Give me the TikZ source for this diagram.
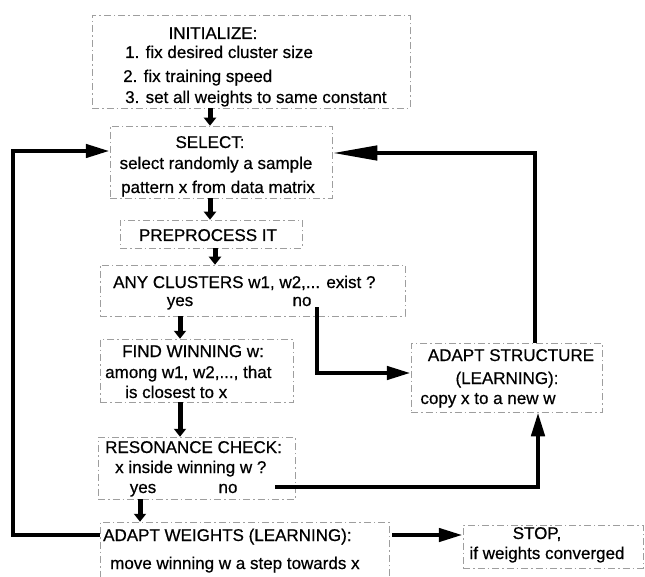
\documentclass[tikz,border=0pt]{standalone}
\usepackage{fontspec}
\setmainfont{Liberation Sans}
\newfontfamily\scanfont[FakeBold=0.6]{Liberation Sans}
\usetikzlibrary{arrows.meta,calc}
\begin{document}
\begin{tikzpicture}[x=1pt,y=-1pt,
  box/.style={draw=black!38, line width=0.5pt, dash pattern=on 7pt off 3pt on 1.5pt off 3pt, rectangle, inner sep=0pt},
  txt/.style={inner sep=0pt, font=\scanfont\fontsize{17}{20}\selectfont, text height=12pt, text depth=0pt},
  flow/.style={line width=4.5pt, -{Triangle[length=24pt,width=13pt]}},
  longflow/.style={line width=4.5pt, -{Triangle[length=45pt,width=14pt]}},
  stub/.style={line width=5pt, -{Triangle[length=8pt,width=12pt]}}
]
\useasboundingbox (0,0) rectangle (645,577);
\newcommand{\bx}[5]{\node[box, minimum width={#4-#2}, minimum height={#5-#3}] (#1) at ({(#2+#4)/2},{(#3+#5)/2}) {};}
% boxes
\bx{init}{92}{15}{410}{108}
\bx{select}{110}{126}{332}{198}
\bx{prep}{120}{220}{302}{248}
\bx{clus}{100}{265}{405}{316}
\bx{find}{100}{339}{293}{402}
\bx{reson}{98}{437}{295}{499}
\bx{adaptw}{100}{522}{389}{577}
\bx{adapts}{411}{343}{602}{412}
\bx{stop}{463}{525}{643}{568}
% texts
\node[txt] (tinit) at (213,33) {INITIALIZE:};
\node[txt,anchor=west] (tinit1) at (125,52) {1. fix desired cluster size};
\node[txt,anchor=west] (tinit2) at (123,76) {2. fix training speed};
\node[txt,anchor=west] (tinit3) at (125,97) {3. set all weights to same constant};
\node[txt] (tsel) at (210,142) {SELECT:};
\node[txt] (tsel1) at (216,163) {select randomly a sample};
\node[txt] (tsel2) at (218,187) {pattern x from data matrix};
\node[txt] (tprep) at (208,235) {PREPROCESS IT};
\node[txt,anchor=west] (tclus) at (113,282) {ANY CLUSTERS w1, w2,... exist ?};
\node[txt] (tcyes) at (180,300) {yes};
\node[txt] (tcno) at (302,300) {no};
\node[txt,anchor=west] (tfind) at (122,351) {FIND WINNING w:};
\node[txt,anchor=west] (tfind1) at (105,372) {among w1, w2,..., that};
\node[txt,anchor=west] (tfind2) at (125,392) {is closest to x};
\node[txt,anchor=west] (tres) at (105,447) {RESONANCE CHECK:};
\node[txt,anchor=west] (tres1) at (115,467) {x inside winning w ?};
\node[txt] (tryes) at (143,487) {yes};
\node[txt] (trno) at (228,487) {no};
\node[txt,anchor=west] (taw) at (103,535) {ADAPT WEIGHTS (LEARNING):};
\node[txt,anchor=west] (taw1) at (110,563) {move winning w a step towards x};
\node[txt] (tas) at (511,355) {ADAPT STRUCTURE};
\node[txt] (tas1) at (507,378) {(LEARNING):};
\node[txt] (tas2) at (488,398) {copy x to a new w};
\node[txt] (tstop) at (537,533) {STOP,};
\node[txt] (tstop1) at (547,553) {if weights converged};
% connector free ends
\coordinate (cno) at (317,307);
\coordinate (rno) at (275,487);
% vertical stubs
\draw[stub] (init.south -| tsel.center) -- (select.north -| tsel.center);
\draw[stub] (select.south -| tsel.center) -- (prep.north -| tsel.center);
\draw[stub] ([xshift=7pt]prep.south -| tprep.center) -- ([xshift=7pt]clus.north -| tprep.center);
\draw[stub] (clus.south -| tcyes.center) -- (find.north -| tcyes.center);
\draw[stub] (find.south -| tcyes.center) -- (reson.north -| tcyes.center);
\draw[stub] ([xshift=-3pt]reson.south -| tryes.center) -- ([xshift=-3pt]adaptw.north -| tryes.center);
% main flows
\draw[flow] (cno) |- ([yshift=4.5pt]adapts.west);
\draw[flow] (rno) -| ([xshift=31.5pt]adapts.south);
\draw[longflow] ([xshift=28.5pt]adapts.north) |- ([yshift=9pt]select.east);
\draw[flow] ([yshift=14.5pt]adaptw.west) -- ++(-87,0) |- ([yshift=11pt]select.west);
\draw[flow] ([xshift=3pt,yshift=14.5pt]adaptw.east) -- ([yshift=14.5pt]adaptw.east -| stop.west);
\end{tikzpicture}
\end{document}
